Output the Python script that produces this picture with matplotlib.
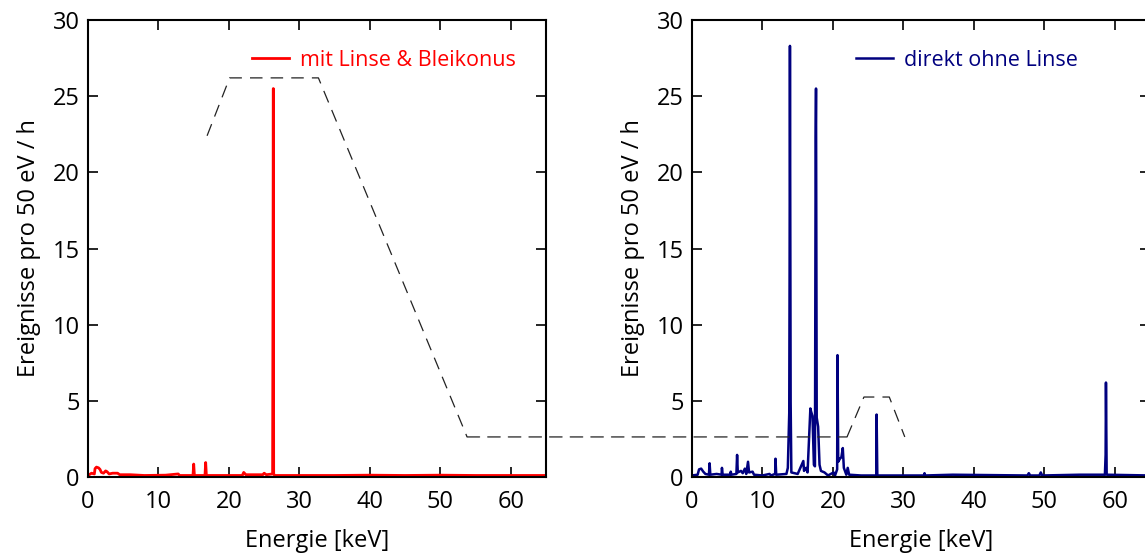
import numpy as np
import matplotlib.pyplot as plt
from matplotlib.patches import ConnectionPatch

plt.rcParams['font.family'] = ['Open Sans', 'DejaVu Sans']

# Spektrum mit Linse & Bleikonus (Energie in keV, Ereignisse pro 50 eV / h)
e_linse = [0.0, 0.5, 0.9, 1.0, 1.2, 1.5, 1.7, 1.9, 2.2, 2.5, 2.7, 3.0, 3.5, 4.2, 4.5,
           6.0, 8.0, 11.0, 12.8, 13.0, 14.9, 15.0, 15.1, 16.6, 16.7, 16.8, 18.0,
           21.9, 22.1, 22.4, 24.8, 25.0, 25.3, 26.2, 26.25, 26.3, 26.35, 26.5,
           28.0, 35.0, 40.0, 45.0, 50.0, 55.0, 60.0, 65.0]
n_linse = [0.1, 0.25, 0.2, 0.55, 0.65, 0.6, 0.5, 0.3, 0.25, 0.4, 0.35, 0.2, 0.25, 0.25, 0.15,
           0.15, 0.1, 0.12, 0.2, 0.1, 0.1, 0.85, 0.1, 0.1, 0.95, 0.1, 0.1,
           0.1, 0.3, 0.15, 0.15, 0.25, 0.15, 0.2, 11.8, 25.5, 0.2, 0.1,
           0.1, 0.1, 0.12, 0.1, 0.12, 0.1, 0.1, 0.1]

# Spektrum direkt ohne Linse
e_direkt = [0.0, 0.8, 1.0, 1.3, 1.6, 1.9, 2.4, 2.5, 2.6, 3.5, 4.2, 4.25, 4.35, 5.4, 5.5, 5.6,
            6.3, 6.4, 6.5, 6.95, 7.2, 7.5, 7.7, 7.95, 8.1, 8.6, 8.8, 10.0, 11.0, 11.2,
            11.8, 11.85, 11.95, 13.4, 13.6, 13.8, 13.85, 13.9, 14.0, 14.1, 15.0, 15.8,
            15.9, 16.2, 16.4, 16.8, 16.9, 17.1, 17.3, 17.45, 17.55, 17.6, 17.7, 17.9,
            18.1, 18.3, 18.8, 19.3, 20.1, 20.3, 20.6, 20.65, 20.75, 21.0, 21.2, 21.4,
            21.55, 21.9, 22.1, 22.3, 24.0, 26.15, 26.2, 26.3, 32.9, 33.0, 33.1, 37.0,
            47.6, 47.8, 48.0, 49.3, 49.5, 49.7, 55.0, 58.6, 58.7, 58.75, 58.85, 65.0]
n_direkt = [0.1, 0.15, 0.5, 0.55, 0.35, 0.2, 0.15, 0.9, 0.15, 0.2, 0.15, 0.6, 0.15, 0.15, 0.35, 0.15,
            0.2, 1.45, 0.3, 0.4, 0.25, 0.55, 0.2, 1.0, 0.3, 0.35, 0.15, 0.1, 0.2, 0.1,
            0.2, 1.2, 0.15, 0.2, 0.6, 4.2, 13.4, 28.3, 4.9, 0.3, 0.2, 1.05,
            0.4, 0.6, 0.3, 4.5, 4.3, 4.0, 0.8, 0.7, 22.3, 25.5, 3.9, 3.3,
            0.8, 0.4, 0.3, 0.1, 0.3, 0.1, 0.5, 8.0, 1.0, 1.2, 1.3, 1.9,
            0.6, 0.15, 0.6, 0.15, 0.1, 0.1, 4.1, 0.1, 0.1, 0.25, 0.1, 0.15,
            0.1, 0.25, 0.1, 0.1, 0.3, 0.1, 0.15, 0.15, 1.45, 6.2, 0.15, 0.1]

# gestrichelte Hilfslinie (Linsen-Schema)
schema_l_x = [16.9, 20.1, 32.7, 53.8]
schema_l_y = [22.4, 26.2, 26.2, 2.63]
schema_r_x = [22.0, 24.4, 28.0, 30.2]
schema_r_y = [2.63, 5.25, 5.25, 2.63]

labels = ['mit Linse & Bleikonus', 'direkt ohne Linse']
farben = ['#ff0000', '#00007f']

fig = plt.figure(figsize=(11.45, 5.59), dpi=100)
ax1 = fig.add_axes([88 / 1145, 82 / 559, 458 / 1145, 457 / 559])
ax2 = fig.add_axes([692 / 1145, 82 / 559, 458 / 1145, 457 / 559])

ax1.plot(e_linse, n_linse, color=farben[0], lw=2.0, label=labels[0])
ax2.plot(e_direkt, n_direkt, color=farben[1], lw=1.8, label=labels[1])

dash = (0, (10, 6.5))
ax1.plot(schema_l_x, schema_l_y, color='#222222', lw=0.9, ls=dash, clip_on=False)
ax2.plot(schema_r_x, schema_r_y, color='#222222', lw=0.9, ls=dash, clip_on=False)
con = ConnectionPatch(xyA=(schema_l_x[-1], schema_l_y[-1]), coordsA=ax1.transData,
                      xyB=(schema_r_x[0], schema_r_y[0]), coordsB=ax2.transData,
                      color='#222222', lw=0.9, linestyle=dash)
fig.add_artist(con)

for ax, f in zip([ax1, ax2], farben):
    ax.set_xlim(0, 65)
    ax.set_ylim(0, 30)
    ax.set_xticks([0, 10, 20, 30, 40, 50, 60])
    ax.set_yticks([0, 5, 10, 15, 20, 25, 30])
    ax.tick_params(direction='in', length=7, width=1.2, top=True, right=True,
                   labelsize=17, pad=6)
    ax.tick_params(axis='x', pad=9)
    for s in ax.spines.values():
        s.set_linewidth(1.5)
    ax.set_xlabel('Energie [keV]', fontsize=17, labelpad=11)
    ax.set_ylabel('Ereignisse pro 50 eV / h', fontsize=17, labelpad=8)
    leg = ax.legend(loc='center left', bbox_to_anchor=(0.358, 0.912), frameon=False,
                    fontsize=15.5, handlelength=1.7, handletextpad=0.55,
                    borderpad=0, borderaxespad=0)
    for t in leg.get_texts():
        t.set_color(f)

plt.savefig('out.png', dpi=100)
